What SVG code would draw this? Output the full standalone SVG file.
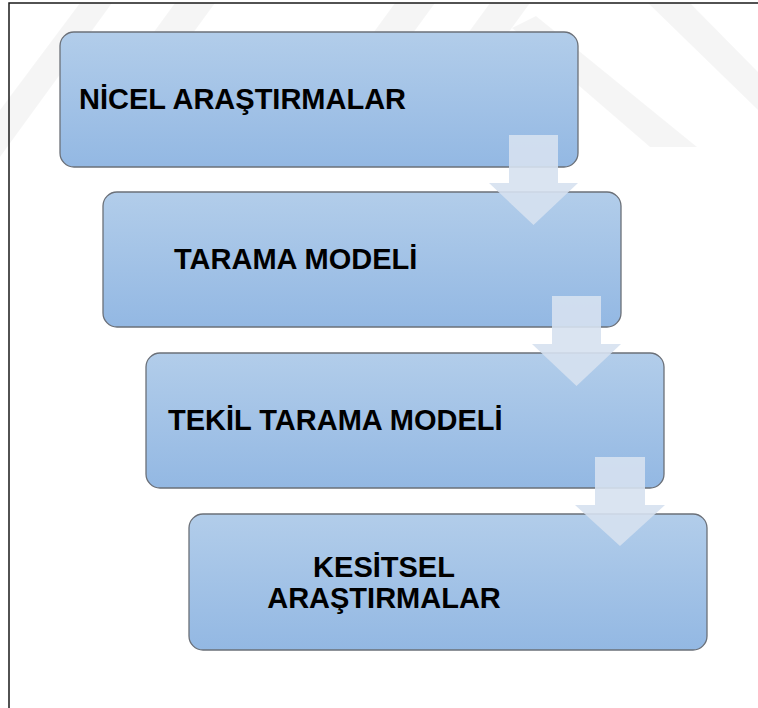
<svg xmlns="http://www.w3.org/2000/svg" width="758" height="708" viewBox="0 0 758 708">
  <defs>
    <linearGradient id="boxGrad" x1="0" y1="0" x2="0" y2="1">
      <stop offset="0" stop-color="#b2cdea"/>
      <stop offset="1" stop-color="#93b8e3"/>
    </linearGradient>
    <style>
      .box { fill: url(#boxGrad); stroke: #6b7078; stroke-width: 1.3; }
      .lbl { font-family: "Liberation Sans", Arial, sans-serif; font-weight: bold; font-size: 29px; fill: #000; }
      .arrow { fill: #d6e1ef; fill-opacity: 0.9; }
      .wm { fill: #000; fill-opacity: 0.04; }
      .frame { stroke: #1a1a1a; stroke-width: 1.5; fill: none; }
    </style>
  </defs>
  <rect x="0" y="0" width="758" height="708" fill="#ffffff"/>
  <g id="watermark">
    <polygon class="wm" points="80,3 112,3 0,157 0,110"/>
    <polygon class="wm" points="175,3 215,3 110,147 70,147"/>
    <polygon class="wm" points="395,3 435,3 330,147 290,147"/>
    <polygon class="wm" points="490,3 530,3 425,147 385,147"/>
    <polygon class="wm" points="512,28 536,16 697,147 650,147"/>
    <polygon class="wm" points="648,3 690,3 758,72 758,110"/>
  </g>
  <path class="frame" d="M9,708 V3 H758"/>
  <g id="n1">
    <rect class="box" x="60" y="32" width="518" height="135" rx="14"/>
    <text class="lbl" x="79" y="109">NİCEL ARAŞTIRMALAR</text>
  </g>
  <g id="n2">
    <rect class="box" x="103" y="192" width="518" height="135" rx="14"/>
    <text class="lbl" x="174" y="269">TARAMA MODELİ</text>
  </g>
  <g id="n3">
    <rect class="box" x="146" y="353" width="518" height="135" rx="14"/>
    <text class="lbl" x="168" y="430">TEKİL TARAMA MODELİ</text>
  </g>
  <g id="n4">
    <rect class="box" x="189" y="514" width="518" height="136" rx="14"/>
    <text class="lbl" x="384" y="577" text-anchor="middle">KESİTSEL</text>
    <text class="lbl" x="384" y="608" text-anchor="middle">ARAŞTIRMALAR</text>
  </g>
  <g id="connectors">
    <polygon class="arrow" points="509,135 558,135 558,183 578,183 533.5,225 489,183 509,183"/>
    <polygon class="arrow" points="552,296 601,296 601,344 621,344 576.5,386 532,344 552,344"/>
    <polygon class="arrow" points="595,457 645,457 645,505 665,505 620,546 575,505 595,505"/>
  </g>
</svg>
